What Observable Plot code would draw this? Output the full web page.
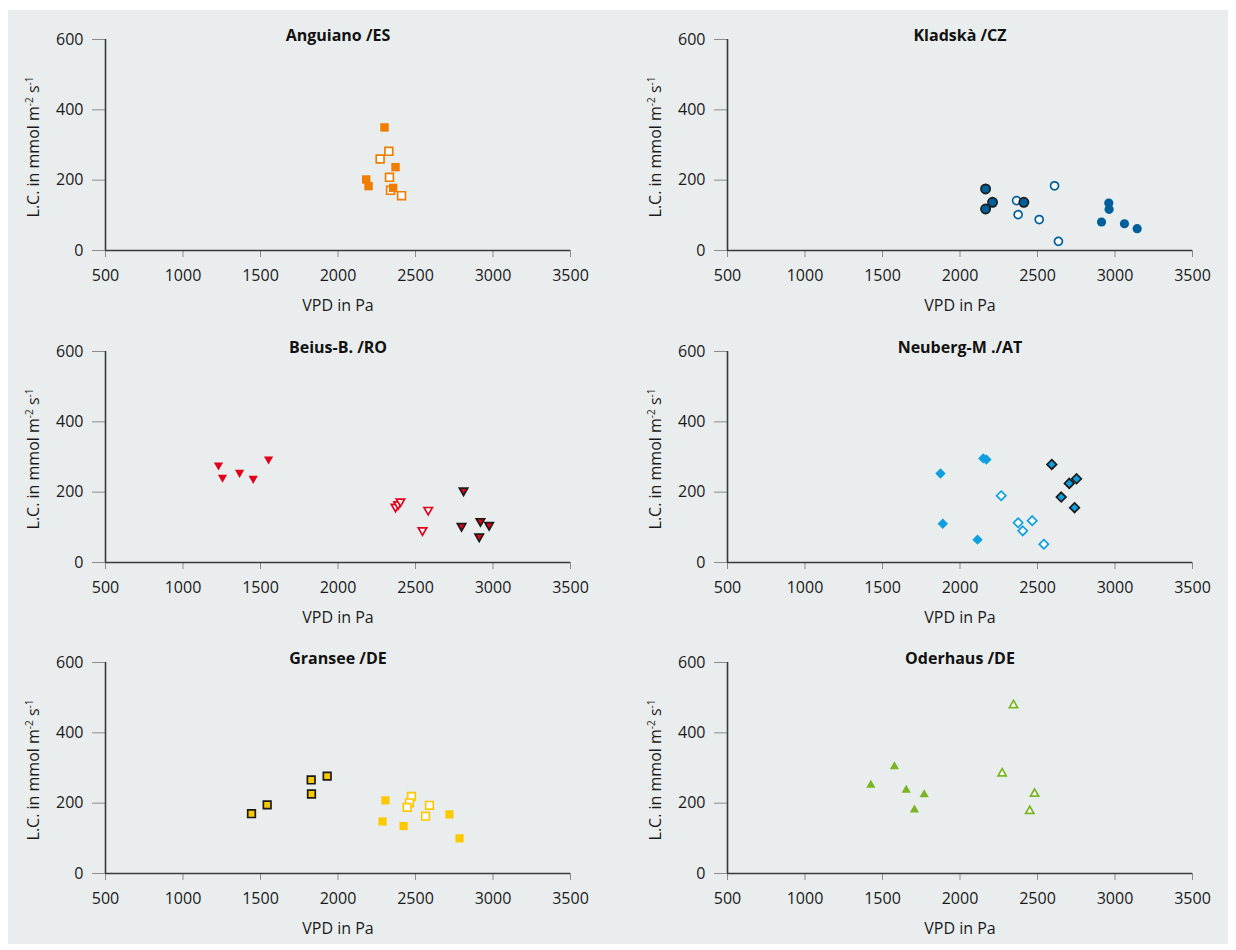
<!DOCTYPE html>
<html><head><meta charset="utf-8">
<script src="https://cdn.jsdelivr.net/npm/d3@7"></script>
<script src="https://cdn.jsdelivr.net/npm/@observablehq/plot@0.6"></script>
<style>
body{margin:0;background:#fff;font-family:"Open Sans",sans-serif;}
#wrap{position:relative;width:1236px;height:950px;overflow:hidden;background:#fff;}
#bg{position:absolute;left:8px;top:10px;width:1220px;height:934px;background:#e9edee;}
.panel{position:absolute;}
</style></head><body><div id="wrap"><div id="bg"></div></div>
<script>
// ---- axes ----
const xTicks = [500, 1000, 1500, 2000, 2500, 3000, 3500];
const yTicks = [0, 200, 400, 600];
const xLabel = "VPD in Pa";

// ---- sites ----
const sites = ["Anguiano /ES", "Kladskà /CZ", "Beius-B. /RO", "Neuberg-M ./AT", "Gransee /DE", "Oderhaus /DE"];
const siteColors = ["#ef7d00", "#005f9a", "#e2001a", "#0e9fe0", "#fcc800", "#7ab420"];

// type: F = filled, O = open, B = filled with black outline
const anguianoVPD = [2300, 2371, 2182, 2197, 2356, 2328, 2272, 2332, 2339, 2410];
const anguianoLC  = [350, 237, 202, 183, 178, 282, 260, 208, 171, 156];
const anguianoType = ["F","F","F","F","F","O","O","O","O","O"];

const kladskaVPD = [2165, 2165, 2210, 2412, 2365, 2610, 2375, 2511, 2635, 2960, 2962, 2913, 3061, 3143];
const kladskaLC  = [175, 118, 137, 137, 142, 184, 102, 88, 26, 135, 117, 81, 76, 62];
const kladskaType = ["B","B","B","B","O","O","O","O","O","F","F","F","F","F"];

const beiusVPD = [1229, 1255, 1365, 1453, 1552, 2371, 2388, 2403, 2582, 2545, 2810, 2797, 2919, 2975, 2911];
const beiusLC  = [273, 238, 252, 235, 290, 155, 162, 170, 146, 88, 201, 100, 114, 103, 70];
const beiusType = ["F","F","F","F","F","O","O","O","O","O","B","B","B","B","B"];

const neubergVPD = [1874, 2150, 2170, 1889, 2113, 2266, 2375, 2405, 2466, 2541, 2592, 2705, 2752, 2653, 2739];
const neubergLC  = [253, 296, 293, 110, 65, 190, 113, 90, 119, 52, 279, 225, 238, 186, 156];
const neubergType = ["F","F","F","F","F","O","O","O","O","O","B","B","B","B","B"];

const granseeVPD = [1442, 1543, 1827, 1829, 1930, 2306, 2287, 2423, 2719, 2784, 2474, 2461, 2446, 2590, 2565];
const granseeLC  = [170, 195, 266, 226, 277, 208, 148, 135, 168, 100, 219, 201, 188, 194, 163];
const granseeType = ["B","B","B","B","B","F","F","F","F","F","O","O","O","O","O"];

const oderhausVPD = [1425, 1577, 1653, 1769, 1706, 2345, 2272, 2481, 2450];
const oderhausLC  = [255, 308, 241, 228, 185, 482, 288, 230, 181];
const oderhausType = ["F","F","F","F","F","O","O","O","O"];

// ---- symbols ----
const R = s => Math.sqrt(s / Math.PI);
const symSquare = {draw(c, s){ const r = R(s); c.rect(-r, -r, 2*r, 2*r); }};
const symCircle = {draw(c, s){ const r = R(s); c.moveTo(r, 0); c.arc(0, 0, r, 0, 2*Math.PI); }};
const symTriDown = {draw(c, s){ const r = R(s), h = 0.875*r; c.moveTo(-r, -h); c.lineTo(r, -h); c.lineTo(0, h); c.closePath(); }};
const symTriUp = {draw(c, s){ const r = R(s), h = 0.875*r; c.moveTo(-r, h); c.lineTo(r, h); c.lineTo(0, -h); c.closePath(); }};
const symDiamond = {draw(c, s){ const r = R(s); c.moveTo(0, -r); c.lineTo(r, 0); c.lineTo(0, r); c.lineTo(-r, 0); c.closePath(); }};

const panels = [
  {vpd: anguianoVPD, lc: anguianoLC, type: anguianoType, sym: symSquare, r: {F: 4.2, O: 3.9, B: 3.9}},
  {vpd: kladskaVPD, lc: kladskaLC, type: kladskaType, sym: symCircle, r: {F: 4.6, O: 4.0, B: 4.6}},
  {vpd: beiusVPD, lc: beiusLC, type: beiusType, sym: symTriDown, r: {F: 4.6, O: 4.2, B: 4.2}},
  {vpd: neubergVPD, lc: neubergLC, type: neubergType, sym: symDiamond, r: {F: 5.2, O: 4.6, B: 4.8}},
  {vpd: granseeVPD, lc: granseeLC, type: granseeType, sym: symSquare, r: {F: 4.1, O: 3.8, B: 3.8}},
  {vpd: oderhausVPD, lc: oderhausLC, type: oderhausType, sym: symTriUp, r: {F: 4.6, O: 4.1, B: 4.1}}
];

const wrap = document.getElementById("wrap");
const W = 618, H = 311;
const rowTops = [0, 312, 623];

panels.forEach((p, i) => {
  const col = i % 2, row = Math.floor(i / 2);
  const color = siteColors[i];
  const tbl = p.vpd.map((v, k) => ({x: v, y: p.lc[k], t: p.type[k]}));
  const ml = col === 0 ? 105 : 109, mr = col === 0 ? 48 : 44;
  const dotMark = (t) => {
    const sub = tbl.filter(d => d.t === t);
    if (t === "F") return Plot.dot(sub, {x: "x", y: "y", symbol: p.sym, r: p.r.F, fill: color, stroke: "none"});
    if (t === "O") return Plot.dot(sub, {x: "x", y: "y", symbol: p.sym, r: p.r.O, fill: "white", stroke: color, strokeWidth: 1.7});
    return Plot.dot(sub, {x: "x", y: "y", symbol: p.sym, r: p.r.B, fill: color, stroke: "#1a1a1a", strokeWidth: 1.7});
  };
  const svg = Plot.plot({
    width: W, height: H,
    marginLeft: ml, marginRight: mr, marginTop: 39, marginBottom: H - 39 - 211,
    x: {domain: [500, 3500], axis: null},
    y: {domain: [0, 600], axis: null},
    style: {fontFamily: "'Open Sans', sans-serif", fontSize: "16px", background: "transparent", overflow: "visible", color: "#1a1a1a"},
    marks: [
      Plot.axisX({ticks: xTicks, tickSize: 7, tickPadding: 12, stroke: "#8c8c8c", tickFormat: d3.format("d"), label: null, fill: "#1a1a1a"}),
      Plot.axisY({ticks: yTicks, tickSize: 13, tickPadding: 9, stroke: "#8c8c8c", tickFormat: d3.format("d"), label: null, fill: "#1a1a1a"}),
      Plot.ruleX([500], {y1: 0, y2: 600, stroke: "#3a3a3a", strokeWidth: 1.6}),
      Plot.ruleY([0], {x1: 500, x2: 3500, stroke: "#3a3a3a", strokeWidth: 1.6}),
      Plot.text([sites[i]], {frameAnchor: "top", lineAnchor: "middle", dy: -4, fontWeight: "bold", fill: "#111"}),
      Plot.text([xLabel], {frameAnchor: "bottom", lineAnchor: "middle", dy: 55, fill: "#1a1a1a"}),
      dotMark("O"), dotMark("F"), dotMark("B")
    ]
  });
  svg.classList.add("panel");
  svg.style.left = (col * W) + "px";
  svg.style.top = rowTops[row] + "px";
  // y axis title with superscripts
  const lx = col === 0 ? 39 : 43, ly = 147;
  const t = d3.select(svg).append("text")
    .attr("transform", `translate(${lx},${ly}) rotate(-90)`)
    .attr("text-anchor", "middle").attr("fill", "#1a1a1a")
    .style("font-size", "16px");
  t.append("tspan").text("L.C. in mmol m");
  t.append("tspan").attr("dy", -6).style("font-size", "10px").text("-2");
  t.append("tspan").attr("dy", 6).text(" s");
  t.append("tspan").attr("dy", -6).style("font-size", "10px").text("-1");
  wrap.appendChild(svg);
});
</script></body></html>
